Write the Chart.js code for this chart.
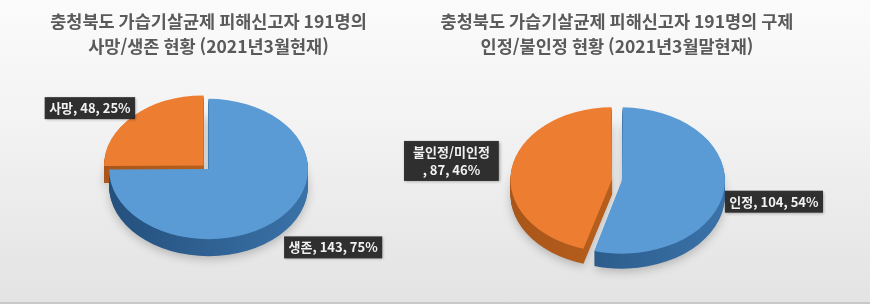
<!DOCTYPE html>
<html lang="ko">
<head>
<meta charset="utf-8">
<script src="https://cdn.jsdelivr.net/npm/chart.js@4.4.1/dist/chart.umd.min.js"></script>
<style>
  html, body { margin: 0; padding: 0; }
  body { width: 870px; height: 307px; overflow: hidden; background: #fff; }
  .wrap { position: relative; width: 870px; height: 307px; }
  .panel {
    position: absolute; top: 0; width: 435px; height: 307px;
    background: linear-gradient(180deg, #fbfbfb 0px, #f3f3f3 120px, #e3e3e3 302px, #c8c8c8 302px, #c8c8c8 304px, #ffffff 304px);
  }
  canvas { position: absolute; top: 0; display: block; }
</style>
</head>
<body>
<div class="wrap">
  <div class="panel" style="left: 0;"></div>
  <div class="panel" style="left: 435px;"></div>
  <canvas id="leftPie" width="435" height="307" style="left: 0;"></canvas>
  <canvas id="rightPie" width="490" height="307" style="left: 380px;"></canvas>
</div>
<script>
// ---- data ----
const leftTitle = ['충청북도 가습기살균제 피해신고자 191명의', '사망/생존 현황 (2021년3월현재)'];
const leftLabels = ['생존', '사망'];
const leftValues = [143, 48];

const rightTitle = ['충청북도 가습기살균제 피해신고자 191명의 구제', '인정/불인정 현황 (2021년3월말현재)'];
const rightLabels = ['인정', '불인정/미인정'];
const rightValues = [104, 87];

const pieColors = ['#5b9bd5', '#ed7d31'];
const FONT = '"Noto Sans CJK KR", "Noto Sans", sans-serif';

// draws the pie squashed into an ellipse, with a side wall below it
const pie3d = {
    id: 'pie3d',
    beforeDatasetsDraw(chart, args, opts) {
        const meta = chart.getDatasetMeta(0);
        const first = meta.data[0];
        const ctx = chart.ctx;
        ctx.save();
        ctx.translate(first.x, first.y);
        ctx.scale(1, opts.tilt);
        ctx.translate(-first.x, -first.y);

        const r = first.outerRadius;
        const sides = opts.sideColors.map(c => {
            const g = ctx.createLinearGradient(first.x - r, 0, first.x + r, 0);
            g.addColorStop(0, c[0]);
            g.addColorStop(1, c[1]);
            return g;
        });

        for (let d = opts.depth; d > 0; d--) {
            ctx.save();
            ctx.translate(0, d / opts.tilt);
            if (d === opts.depth) {
                ctx.shadowColor = 'rgba(0, 0, 0, 0.22)';
                ctx.shadowBlur = 10;
                ctx.shadowOffsetY = 3;
            }
            meta.data.forEach((el, i) => {
                const orig = el.options;
                el.options = Object.assign({}, orig, { backgroundColor: sides[i], borderWidth: 0 });
                el.draw(ctx);
                el.options = orig;
            });
            ctx.restore();
        }
    },
    afterDatasetsDraw(chart) {
        chart.ctx.restore();
    }
};

// dark callout boxes: "name, value, pct%"
const sliceLabels = {
    id: 'sliceLabels',
    afterDraw(chart, args, opts) {
        const ctx = chart.ctx;
        const meta = chart.getDatasetMeta(0);
        const values = chart.data.datasets[0].data;
        const total = values.reduce((a, b) => a + b, 0);
        const tilt = chart.options.plugins.pie3d.tilt;

        meta.data.forEach((el, i) => {
            const name = chart.data.labels[i];
            const pct = Math.round(values[i] / total * 100);
            const lines = opts.wrap[i]
                ? [name, ', ' + values[i] + ', ' + pct + '%']
                : [name + ', ' + values[i] + ', ' + pct + '%'];

            const mid = (el.startAngle + el.endAngle) / 2;
            const shift = (el.options.offset || 0) / 4;
            const fix = 1 - Math.sin(Math.min(Math.PI, el.endAngle - el.startAngle));
            const rr = el.outerRadius + shift * fix + shift;
            const ax = el.x + Math.cos(mid) * rr;
            const ay = el.y + Math.sin(mid) * rr * tilt;

            ctx.save();
            ctx.font = 'bold 13px ' + FONT;
            const tw = Math.max(...lines.map(l => ctx.measureText(l).width));
            const lineH = 18;
            const w = tw + (lines.length > 1 ? 18 : 9);
            const h = lines.length * lineH + 4;
            const cx = ax + opts.nudges[i][0];
            const cy = ay + opts.nudges[i][1];

            ctx.shadowColor = 'rgba(0, 0, 0, 0.35)';
            ctx.shadowBlur = 3;
            ctx.shadowOffsetX = 1;
            ctx.shadowOffsetY = 1;
            ctx.fillStyle = 'rgba(40, 40, 40, 0.95)';
            ctx.fillRect(cx - w / 2, cy - h / 2, w, h);
            ctx.shadowColor = 'transparent';

            ctx.fillStyle = '#f2f2f2';
            ctx.textAlign = 'center';
            ctx.textBaseline = 'middle';
            lines.forEach((l, k) => {
                ctx.fillText(l, cx, cy - h / 2 + 2 + lineH * (k + 0.5));
            });
            ctx.restore();
        });
    }
};

function makePie(canvasId, cfg) {
    return new Chart(document.getElementById(canvasId), {
        type: 'pie',
        data: {
            labels: cfg.labels,
            datasets: [{
                data: cfg.values,
                backgroundColor: pieColors,
                borderWidth: 0,
                offset: cfg.offsets,
                radius: cfg.radius,
                clip: false
            }]
        },
        options: {
            responsive: false,
            animation: false,
            events: [],
            radius: cfg.radius,
            layout: { padding: cfg.padding },
            plugins: {
                legend: { display: false },
                tooltip: { enabled: false },
                title: {
                    display: true,
                    text: cfg.title,
                    color: '#5a5a5a',
                    font: { family: FONT, size: 17.5, weight: '600', lineHeight: '25px' },
                    padding: { top: 9, bottom: 0 }
                },
                pie3d: { tilt: cfg.tilt, depth: cfg.depth, sideColors: [['#24507c', '#3a72a8'], ['#a9561a', '#c4681f']] },
                sliceLabels: { nudges: cfg.nudges, wrap: cfg.wrap }
            }
        },
        plugins: [pie3d, sliceLabels]
    });
}

makePie('leftPie', {
    title: leftTitle,
    labels: leftLabels,
    values: leftValues,
    offsets: [0, 28],
    radius: 99.5,
    tilt: 0.705,
    depth: 17,
    padding: { left: 4, right: 22, top: 0, bottom: 28 },
    nudges: [[54, 29], [-43, -8]],
    wrap: [false, false]
});

makePie('rightPie', {
    title: rightTitle,
    labels: rightLabels,
    values: rightValues,
    offsets: [20, 20],
    radius: 98,
    tilt: 0.71,
    depth: 15,
    padding: { left: 55, right: 71, top: 0, bottom: 6 },
    nudges: [[50, 11], [-60, -8.5]],
    wrap: [false, true]
});
</script>
</body>
</html>
